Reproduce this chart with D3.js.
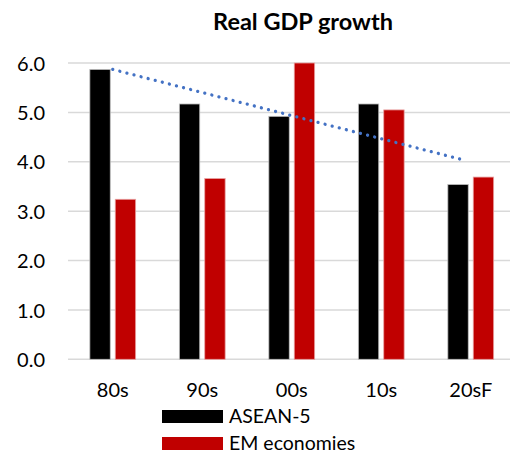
<!DOCTYPE html>
<html>
<head>
<meta charset="utf-8">
<script src="https://cdn.jsdelivr.net/npm/d3@7"></script>
<style>
  body { margin: 0; background: #fff; }
  text { font-family: Lato, "Open Sans", sans-serif; fill: #000; }
</style>
</head>
<body>
<svg id="chart"></svg>
<script>
var categories = ["80s", "90s", "00s", "10s", "20sF"],
    series = ["ASEAN-5", "EM economies"],
    asean5 = [5.87, 5.17, 4.92, 5.17, 3.54],
    emEconomies = [3.24, 3.66, 6.0, 5.05, 3.69],
    trendEnds = [5.87, 4.03],
    yTicks = [0, 1, 2, 3, 4, 5, 6]

var width = 510, height = 452,
    colors = ["#000000", "#c00000"]

var svg = d3.select("#chart")
    .attr("width", width)
    .attr("height", height)

var x = d3.scaleBand()
    .domain(categories)
    .range([68, 515.5])

var xSub = d3.scaleBand()
    .domain(series)
    .range([0, 45.8])
    .paddingInner(0.197)

var y = d3.scaleLinear()
    .domain([0, 6])
    .range([359.3, 63])

// gridlines
svg.append("g")
    .selectAll("line")
    .data(yTicks)
    .enter().append("line")
    .attr("x1", 68)
    .attr("x2", width)
    .attr("y1", d => y(d))
    .attr("y2", d => y(d))
    .style("stroke", "#d9d9d9")
    .style("stroke-width", "1.5px")

// y axis labels
var yAxis = d3.axisLeft(y)
    .tickValues(yTicks)
    .tickFormat(d3.format(".1f"))
    .tickSize(0)
    .tickPadding(0)

svg.append("g")
    .attr("transform", "translate(45,0)")
    .call(yAxis)
    .call(g => g.select(".domain").remove())
    .selectAll("text")
    .style("font-size", "20px")
    .style("font-family", "Lato, sans-serif")
    .attr("fill", "#000")
    .attr("dy", "0.36em")

// bars
var rows = categories.map((c, i) => ({cat: c, values: [asean5[i], emEconomies[i]]}))

var groups = svg.append("g")
    .selectAll("g")
    .data(rows)
    .enter().append("g")
    .attr("transform", d => "translate(" + (x(d.cat) + x.bandwidth() / 2 - 22.9) + ",0)")

groups.selectAll("rect")
    .data(d => d.values.map((v, j) => ({key: series[j], value: v, j: j})))
    .enter().append("rect")
    .attr("x", d => xSub(d.key))
    .attr("width", xSub.bandwidth())
    .attr("y", d => y(d.value))
    .attr("height", d => y(0) - y(d.value))
    .style("fill", d => colors[d.j])
    .style("stroke", d => d.j == 0 ? "#bfbfbf" : "#e8a0a0")
    .style("stroke-width", "0.8px")

// trend line
var trendCats = [categories[0], categories[categories.length - 1]]
svg.append("line")
    .attr("x1", x(trendCats[0]) + x.bandwidth() / 2)
    .attr("x2", x(trendCats[1]) + x.bandwidth() / 2 - 6)
    .attr("y1", y(trendEnds[0]))
    .attr("y2", y(trendEnds[1]))
    .style("stroke", "#4472c4")
    .style("stroke-width", "3.3px")
    .style("stroke-linecap", "round")
    .style("stroke-dasharray", "0.01 7.3")

// x labels
var xAxis = d3.axisBottom(x).tickSize(0).tickPadding(0)
svg.append("g")
    .attr("transform", "translate(0,397)")
    .call(xAxis)
    .call(g => g.select(".domain").remove())
    .selectAll("text")
    .style("font-size", "20px")
    .style("font-family", "Lato, sans-serif")
    .attr("fill", "#000")
    .attr("dy", "0")

// title
svg.append("text")
    .attr("x", 303)
    .attr("y", 30)
    .attr("text-anchor", "middle")
    .style("font-size", "23.5px")
    .style("font-weight", "bold")
    .text("Real GDP growth")

// legend
var legend = svg.append("g")
    .selectAll("g")
    .data(series)
    .enter().append("g")
    .attr("transform", (d, i) => "translate(162," + (410 + i * 27) + ")")

legend.append("rect")
    .attr("width", 61)
    .attr("height", 13)
    .style("fill", (d, i) => colors[i])

legend.append("text")
    .attr("x", 67)
    .attr("y", 12.5)
    .style("font-size", "19.5px")
    .text(d => d)
</script>
</body>
</html>
